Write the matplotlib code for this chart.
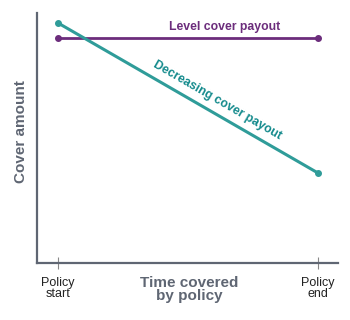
import numpy as np
import matplotlib
matplotlib.use("Agg")
import matplotlib.pyplot as plt

plt.rcParams['font.family'] = ['Liberation Sans', 'DejaVu Sans']

# Data
time_pos = [0, 1]
tick_labels = ["Policy\nstart", "Policy\nend"]
level_cover = [0.9, 0.9]
decreasing_cover = [0.96, 0.36]

# Colours
teal = "#2f9c99"
teal_text = "#138a8c"
purple = "#6c2d7c"
axis_grey = "#5f6673"

fig = plt.figure(figsize=(3.5, 3.2), dpi=100)
ax = fig.add_axes([0.107, 0.178, 0.859, 0.781])

ax.plot(time_pos, level_cover, color=purple, lw=2, marker="o", markersize=4, zorder=2)
ax.plot(time_pos, decreasing_cover, color=teal, lw=2.2, marker="o", markersize=4, zorder=3)

ax.set_xlim(-0.08, 1.077)
ax.set_ylim(0, 1)

for s in ["top", "right"]:
    ax.spines[s].set_visible(False)
for s in ["left", "bottom"]:
    ax.spines[s].set_color(axis_grey)
    ax.spines[s].set_linewidth(1.6)

ax.set_yticks([])
ax.set_xticks(time_pos)
ax.set_xticklabels(tick_labels, fontsize=9, color="#222222", linespacing=0.9)
ax.tick_params(axis="x", direction="inout", length=8, width=0.8, color="#888888", pad=6)

ax.set_ylabel("Cover amount", fontsize=11, fontweight="bold", color=axis_grey)
ax.yaxis.set_label_coords(-0.032, 0.528)
ax.set_xlabel("Time covered\nby policy", fontsize=11, fontweight="bold", color=axis_grey,
              linespacing=0.95)
ax.xaxis.set_label_coords(0.504, -0.05)

# Series labels
ax.text(0.64, level_cover[0] + 0.045, "Level cover payout", color=purple, fontsize=8.8,
        fontweight="bold", ha="center", va="center")

xm = 0.588
ym = np.interp(xm, time_pos, decreasing_cover)
ax.annotate("Decreasing cover payout", xy=(xm, ym), xytext=(4.5, 7.7), textcoords="offset points",
            color=teal_text, fontsize=8.8, fontweight="bold", rotation=-30,
            rotation_mode="anchor", ha="center", va="center")

fig.savefig("out.png", dpi=100)
